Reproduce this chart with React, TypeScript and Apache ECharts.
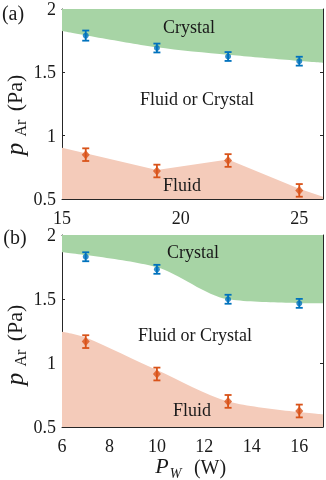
import React, { useEffect, useRef } from "react";
import * as echarts from "echarts";

// Panel (a)
const powerA = [16, 19, 22, 25];
const crystalA = [1.79, 1.692, 1.625, 1.588];
const fluidA = [0.85, 0.721, 0.804, 0.568];
const crystalErrA = [0.04, 0.035, 0.035, 0.035];
const fluidErrA = [0.05, 0.05, 0.05, 0.05];
const crystalEdgeXA = [15, 19, 22, 26];
const crystalEdgeYA = [1.827, 1.698, 1.638, 1.574];
const fluidEdgeXA = [15, 19, 22, 25, 26];
const fluidEdgeYA = [0.905, 0.729, 0.812, 0.58, 0.517];

// Panel (b)
const powerB = [7, 10, 13, 16];
const crystalB = [1.83, 1.732, 1.498, 1.466];
const fluidB = [1.167, 0.914, 0.7, 0.625];
const crystalErrB = [0.035, 0.035, 0.035, 0.035];
const fluidErrB = [0.05, 0.05, 0.05, 0.05];
const crystalEdgeXB = [6, 10, 13, 17];
const crystalEdgeYB = [1.865, 1.748, 1.498, 1.466];
const fluidEdgeXB = [6, 7, 10, 13, 17];
const fluidEdgeYB = [1.245, 1.2, 0.945, 0.7, 0.6];

const yTicks = [0.5, 1, 1.5, 2];

const FONT = "Liberation Serif";
const INK = "#1a1a1a";
const AXIS = "#262626";
const BLUE = "#0072BD";
const ORANGE = "#D95319";
const GREEN_FILL = "#a7d4a5";
const ORANGE_FILL = "#f4cbba";

function pairs(xs: number[], ys: number[]) {
  return xs.map((x, i) => [x, ys[i]]);
}

function errorSeries(xs: number[], ys: number[], es: number[], color: string, axis: number) {
  return {
    type: "custom",
    xAxisIndex: axis,
    yAxisIndex: axis,
    z: 4,
    data: xs.map((x, i) => [x, ys[i], es[i]]),
    encode: { x: 0, y: 1 },
    renderItem: (_p: any, api: any) => {
      const x = api.value(0);
      const y = api.value(1);
      const e = api.value(2);
      const t = api.coord([x, y + e]);
      const b = api.coord([x, y - e]);
      const w = 3.5;
      const st = { stroke: color, lineWidth: 1.8 };
      return {
        type: "group",
        children: [
          { type: "line", shape: { x1: t[0], y1: t[1], x2: b[0], y2: b[1] }, style: st },
          { type: "line", shape: { x1: t[0] - w, y1: t[1], x2: t[0] + w, y2: t[1] }, style: st },
          { type: "line", shape: { x1: b[0] - w, y1: b[1], x2: b[0] + w, y2: b[1] }, style: st },
        ],
      };
    },
  };
}

function areaSeries(xs: number[], ys: number[], color: string, origin: string, axis: number, smooth: number) {
  return {
    type: "line",
    xAxisIndex: axis,
    yAxisIndex: axis,
    data: pairs(xs, ys),
    smooth,
    symbol: "none",
    silent: true,
    z: 1,
    lineStyle: { width: 0, opacity: 0 },
    areaStyle: { color, opacity: 1, origin },
  };
}

function pointSeries(xs: number[], ys: number[], color: string, symbol: string, size: any, axis: number) {
  return {
    type: "scatter",
    xAxisIndex: axis,
    yAxisIndex: axis,
    data: pairs(xs, ys),
    symbol,
    symbolSize: size,
    z: 5,
    itemStyle: { color },
  };
}

function xAxes(gridIndex: number, min: number, max: number, interval: number) {
  const common = {
    type: "value",
    gridIndex,
    min,
    max,
    interval,
    splitLine: { show: false },
    axisLine: { show: true, onZero: false, lineStyle: { color: AXIS, width: 1 } },
    axisTick: { show: true, inside: true, length: 3, lineStyle: { color: AXIS } },
  };
  return [
    {
      ...common,
      position: "bottom",
      axisLabel: {
        show: true,
        margin: 10,
        color: INK,
        fontFamily: FONT,
        fontSize: 18,
        formatter: (v: number) => (Math.abs(v / interval - Math.round(v / interval)) < 1e-6 ? String(v) : ""),
      },
    },
    { ...common, position: "top", axisLabel: { show: false } },
  ];
}

function yAxes(gridIndex: number) {
  const common = {
    type: "value",
    gridIndex,
    min: yTicks[0],
    max: yTicks[yTicks.length - 1],
    interval: 0.5,
    splitLine: { show: false },
    axisLine: { show: true, onZero: false, lineStyle: { color: AXIS, width: 1 } },
    axisTick: { show: true, inside: true, length: 3, lineStyle: { color: AXIS } },
  };
  return [
    {
      ...common,
      position: "left",
      axisLabel: { show: true, margin: 6, color: INK, fontFamily: FONT, fontSize: 18 },
    },
    { ...common, position: "right", axisLabel: { show: false } },
  ];
}

function txt(text: string, x: number, y: number, size: number, extra: any = {}, italic = false) {
  return {
    type: "text",
    x,
    y,
    silent: true,
    z: 10,
    ...extra,
    style: {
      text,
      fill: INK,
      fontFamily: FONT,
      fontSize: size,
      fontStyle: italic ? "italic" : "normal",
      textAlign: "center",
      textVerticalAlign: "middle",
    },
  };
}

function yTitle(dy: number) {
  const r = Math.PI / 2;
  return [
    txt("p", 14, 149 + dy, 25, { rotation: r }, true),
    txt("Ar", 20.5, 128 + dy, 16, { rotation: r }),
    txt("(Pa)", 14.5, 93 + dy, 22, { rotation: r }),
  ];
}

export default function App() {
  const ref = useRef<HTMLDivElement>(null);
  useEffect(() => {
    if (!ref.current) return;
    const chart = echarts.init(ref.current, null, { renderer: "svg" });
    const option: any = {
      animation: false,
      grid: [
        { left: 62, top: 6, width: 262, height: 193 },
        { left: 62, top: 235, width: 263, height: 192 },
      ],
      xAxis: [...xAxes(0, 15, 26, 5), ...xAxes(1, 6, 17, 2)],
      yAxis: [...yAxes(0), ...yAxes(1)],
      series: [
        areaSeries(crystalEdgeXA, crystalEdgeYA, GREEN_FILL, "end", 0, 0.3),
        areaSeries(fluidEdgeXA, fluidEdgeYA, ORANGE_FILL, "start", 0, 0),
        errorSeries(powerA, crystalA, crystalErrA, BLUE, 0),
        errorSeries(powerA, fluidA, fluidErrA, ORANGE, 0),
        pointSeries(powerA, crystalA, BLUE, "circle", 6, 0),
        pointSeries(powerA, fluidA, ORANGE, "diamond", [8, 9], 0),

        areaSeries(crystalEdgeXB, crystalEdgeYB, GREEN_FILL, "end", 2, 0.3),
        areaSeries(fluidEdgeXB, fluidEdgeYB, ORANGE_FILL, "start", 2, 0.3),
        errorSeries(powerB, crystalB, crystalErrB, BLUE, 2),
        errorSeries(powerB, fluidB, fluidErrB, ORANGE, 2),
        pointSeries(powerB, crystalB, BLUE, "circle", 6, 2),
        pointSeries(powerB, fluidB, ORANGE, "diamond", [8, 9], 2),
      ],
      graphic: [
        txt("(a)", 13, 13, 20),
        txt("(b)", 15, 237, 20),
        txt("Crystal", 189, 27, 18),
        txt("Fluid or Crystal", 197, 99, 18),
        txt("Fluid", 182, 185, 18),
        txt("Crystal", 193, 252, 18),
        txt("Fluid or Crystal", 195, 335, 18),
        txt("Fluid", 192, 410, 18),
        ...yTitle(0),
        ...yTitle(230),
        txt("P", 162, 465.5, 22, {}, true),
        txt("W", 175.5, 473, 14, {}, true),
        txt("(W)", 210, 467, 20),
      ],
    };
    chart.setOption(option);
    return () => chart.dispose();
  }, []);
  return <div ref={ref} style={{ position: "fixed", left: 0, top: 0, width: 326, height: 480 }} />;
}
